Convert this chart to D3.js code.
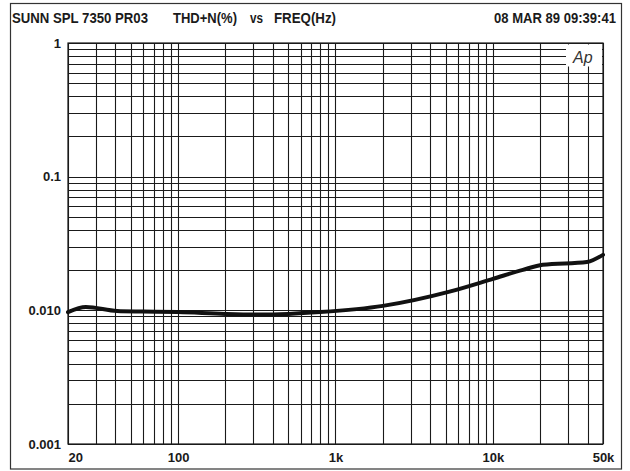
<!DOCTYPE html>
<html><head><meta charset="utf-8">
<script src="https://cdn.jsdelivr.net/npm/d3@7"></script>
<style>html,body{margin:0;padding:0;background:#fff;}svg{display:block;}</style>
</head><body>
<svg id="c" width="630" height="471"></svg>
<script>
const freqs = [20, 26, 41, 60, 100, 200, 330, 500, 800, 2000, 5300, 10000, 15500, 20700, 39500, 50000];
const thd   = [0.0097, 0.0106, 0.0099, 0.0098, 0.0097, 0.0094, 0.0093, 0.0094, 0.0097, 0.0108, 0.0138, 0.0172, 0.0201, 0.0219, 0.0230, 0.0260];
const xTickValues = [20, 100, 1000, 10000, 50000];
const xTickLabels = ["20", "100", "1k", "10k", "50k"];
const yTickValues = [1, 0.1, 0.01, 0.001];
const yTickLabels = ["1", "0.1", "0.010", "0.001"];
const titleLeft = "SUNN SPL 7350 PR03";
const titleMid = ["THD+N(%)", "vs", "FREQ(Hz)"];
const titleRight = "08 MAR 89 09:39:41";

const svg = d3.select("#c");
const L = 68, R = 603, T = 43, B = 444;
const x = d3.scaleLog().domain([20, 50000]).range([L, R]);
const y = d3.scaleLog().domain([0.001, 1]).range([B, T]);
const ink = "#1a1a1a";
const font = "'Liberation Sans', Arial, sans-serif";

// outer frame
svg.append("rect").attr("x", 10.5).attr("y", 3.5).attr("width", 611).attr("height", 465.5)
  .attr("fill", "none").attr("stroke", "#333").attr("stroke-width", 1.2);

// grid values
const vGrid = [];
for (let d = 10; d <= 10000; d *= 10) for (let m = 1; m <= 9; m++) { const f = m * d; if (f >= 20 && f <= 50000) vGrid.push(f); }
[20000, 30000, 40000, 50000].forEach(f => { if (!vGrid.includes(f)) vGrid.push(f); });
const hGrid = [];
for (let d = 0.001; d < 1.001; d *= 10) for (let m = 1; m <= 9; m++) { const v = m * d; if (v <= 1.0001) hGrid.push(v); }

const g = svg.append("g");
g.selectAll("line.v").data(vGrid).join("line")
  .attr("x1", d => Math.round(x(d)) + 0.5).attr("x2", d => Math.round(x(d)) + 0.5)
  .attr("y1", T).attr("y2", B).attr("stroke", ink).attr("stroke-width", 1.1);
g.selectAll("line.h").data(hGrid).join("line")
  .attr("y1", d => Math.round(y(d)) + 0.5).attr("y2", d => Math.round(y(d)) + 0.5)
  .attr("x1", L).attr("x2", R).attr("stroke", ink).attr("stroke-width", 1.1);
g.append("rect").attr("x", L).attr("y", T).attr("width", R - L).attr("height", B - T)
  .attr("fill", "none").attr("stroke", ink).attr("stroke-width", 1.2);

// Ap logo box
svg.append("rect").attr("x", 566).attr("y", T + 1.5).attr("width", R - 566 - 1).attr("height", 22).attr("fill", "#fff");
svg.append("text").attr("x", 573).attr("y", 63).attr("font-family", font).attr("font-style", "italic")
  .attr("font-size", 16).attr("fill", "#333").text("Ap");

// curve
const line = d3.line().x((d, i) => x(freqs[i])).y(d => y(d)).curve(d3.curveMonotoneX);
svg.append("path").attr("d", line(thd)).attr("fill", "none").attr("stroke", "#111")
  .attr("stroke-width", 4).attr("stroke-linejoin", "round").attr("stroke-linecap", "round");

// axes (labels only)
const xAxis = d3.axisBottom(x).tickValues(xTickValues).tickFormat((d, i) => xTickLabels[i]).tickSize(0).tickPadding(6);
const xa = svg.append("g").attr("transform", `translate(0,${B})`).call(xAxis);
xa.select(".domain").remove();
xa.selectAll("text").attr("font-family", font).attr("font-weight", "bold").attr("font-size", 13).attr("fill", ink)
  .attr("dy", "0.95em");
xa.selectAll("text").filter(d => d === 20).attr("text-anchor", "start");

const yAxis = d3.axisLeft(y).tickValues(yTickValues).tickFormat((d, i) => yTickLabels[i]).tickSize(0).tickPadding(7);
const ya = svg.append("g").attr("transform", `translate(${L},0)`).call(yAxis);
ya.select(".domain").remove();
ya.selectAll("text").attr("font-family", font).attr("font-weight", "bold").attr("font-size", 13).attr("fill", ink);

// title
const tt = svg.append("g").attr("font-family", font).attr("font-weight", "bold").attr("font-size", 14).attr("fill", ink);
tt.append("text").attr("x", 12).attr("y", 23).attr("textLength", 136).attr("lengthAdjust", "spacingAndGlyphs").text(titleLeft);
tt.append("text").attr("x", 173).attr("y", 23).attr("textLength", 64).attr("lengthAdjust", "spacingAndGlyphs").text(titleMid[0]);
tt.append("text").attr("x", 250).attr("y", 23).attr("textLength", 13).attr("lengthAdjust", "spacingAndGlyphs").text(titleMid[1]);
tt.append("text").attr("x", 274).attr("y", 23).attr("textLength", 62).attr("lengthAdjust", "spacingAndGlyphs").text(titleMid[2]);
tt.append("text").attr("x", 494).attr("y", 23).attr("textLength", 122).attr("lengthAdjust", "spacingAndGlyphs").text(titleRight);
</script>
</body></html>
